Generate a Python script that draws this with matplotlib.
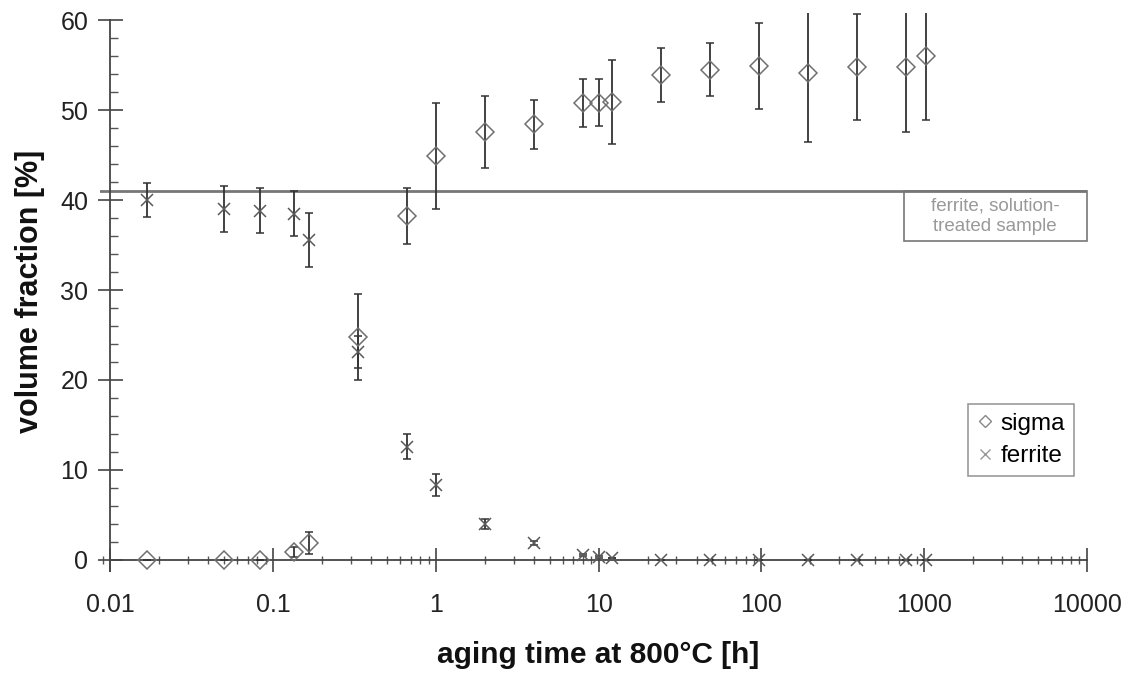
import matplotlib
matplotlib.use('Agg')
import matplotlib.pyplot as plt
from matplotlib.ticker import LogLocator, MultipleLocator, FuncFormatter, NullFormatter
from matplotlib.lines import Line2D
from matplotlib.patches import Rectangle

plt.rcParams['font.family'] = ['Liberation Sans', 'DejaVu Sans']

# aging time [h]
times = [1/60, 3/60, 5/60, 8/60, 10/60, 20/60, 40/60, 1, 2, 4, 8, 10, 12,
         24, 48, 96, 192, 384, 768, 1032]

sigma = [0, 0, 0, 0.9, 1.9, 24.8, 38.2, 44.9, 47.6, 48.4, 50.8, 50.8, 50.9,
         53.9, 54.5, 54.9, 54.1, 54.8, 54.8, 56.0]
sigma_err = [0, 0, 0, 0.55, 1.25, 4.8, 3.1, 5.9, 4.0, 2.7, 2.7, 2.6, 4.7,
             3.0, 2.9, 4.8, 7.7, 5.9, 7.2, 7.1]

ferrite = [40.0, 39.0, 38.8, 38.5, 35.6, 23.1, 12.6, 8.3, 4.0, 1.9, 0.55, 0.3, 0.2,
           0, 0, 0, 0, 0, 0, 0]
ferrite_err = [1.9, 2.6, 2.5, 2.5, 3.0, 1.8, 1.35, 1.2, 0.55, 0.25, 0.15, 0.1, 0,
               0, 0, 0, 0, 0, 0, 0]

ferrite_solution = 41
box_text = 'ferrite, solution-\ntreated sample'
x_ticks = [0.01, 0.1, 1, 10, 100, 1000, 10000]

fig = plt.figure(figsize=(11.32, 6.75), dpi=100)
ax = fig.add_axes([0.0883, 0.1544, 0.8719, 0.8266])
ax.set_xscale('log')
ax.set_xlim(10 ** -2.0645, 10000)
ax.set_ylim(-1.2, 60.8)

# reference line (solution treated)
ax.axhline(ferrite_solution, color='#777777', lw=2, zorder=1)

bar_col = '#333333'
ax.errorbar(times, sigma, yerr=sigma_err, fmt='D', ms=9.5, mfc='none', mec='#707070',
            mew=1.1, ecolor=bar_col, elinewidth=1.3, capsize=3, capthick=1.3, zorder=3)
ax.errorbar(times, ferrite, yerr=ferrite_err, fmt='x', ms=8, color='#5a5a5a',
            mew=1.1, ecolor=bar_col, elinewidth=1.3, capsize=3, capthick=1.3, zorder=3)

# text box under the line
ax.add_patch(Rectangle((748, 35.4), 10000 - 748, ferrite_solution - 35.4, fill=False,
                       ec='#777777', lw=1.2, zorder=2, clip_on=False))
ax.text(2730, 38.2, box_text, ha='center', va='center', fontsize=13.5,
        color='#999999', linespacing=1.2)

# spines
ax.spines['top'].set_visible(False)
ax.spines['right'].set_visible(False)
ax.spines['bottom'].set_position(('data', 0))
ax.spines['bottom'].set_bounds(0.01, 10000)
ax.spines['left'].set_position(('data', 0.01))
ax.spines['left'].set_bounds(-1.2, 60)
for s in ('bottom', 'left'):
    ax.spines[s].set_color('#444444')
    ax.spines[s].set_linewidth(1.3)

ax.xaxis.set_major_locator(LogLocator(base=10))
ax.xaxis.set_minor_locator(LogLocator(base=10, subs=range(2, 10)))
ax.xaxis.set_major_formatter(FuncFormatter(lambda v, p: '%g' % v))
ax.xaxis.set_minor_formatter(NullFormatter())
ax.set_xticks(x_ticks)
ax.yaxis.set_major_locator(MultipleLocator(10))
ax.yaxis.set_minor_locator(MultipleLocator(2))

ax.tick_params(axis='x', which='major', direction='inout', length=17, width=1.2,
               color='#444444', labelsize=18, pad=15, labelcolor='#222222')
ax.tick_params(axis='x', which='minor', direction='inout', length=6, width=1,
               color='#555555')
ax.tick_params(axis='y', which='major', direction='inout', length=18, width=1.2,
               color='#444444', labelsize=18, pad=7, labelcolor='#222222')
ax.tick_params(axis='y', which='minor', direction='in', length=6, width=1,
               color='#555555')

ax.set_xlabel('aging time at 800°C [h]', fontsize=21.5, fontweight='bold', color='#111111')
ax.xaxis.label.set_va('center')
ax.xaxis.set_label_coords(0.5046, -0.151)
ax.set_ylabel('volume fraction [%]', fontsize=22, fontweight='bold', color='#111111')
ax.yaxis.label.set_va('center')
ax.yaxis.set_label_coords(-0.0709, 0.5014)

handles = [
    Line2D([], [], marker='D', ls='none', mfc='none', mec='#888888', ms=6.5, mew=1),
    Line2D([], [], marker='x', ls='none', color='#999999', ms=7.5, mew=1),
]
leg = ax.legend(handles, ['sigma', 'ferrite'], loc='upper left',
                bbox_to_anchor=(968 / 1132, 1 - 404 / 675), bbox_transform=fig.transFigure,
                fontsize=17.5, frameon=True, fancybox=False, handlelength=0.7,
                handletextpad=0.3, borderpad=0.35, labelspacing=0.45, borderaxespad=0)
leg.get_frame().set_edgecolor('#777777')
leg.get_frame().set_linewidth(1.1)

fig.savefig('out.png', dpi=100)
